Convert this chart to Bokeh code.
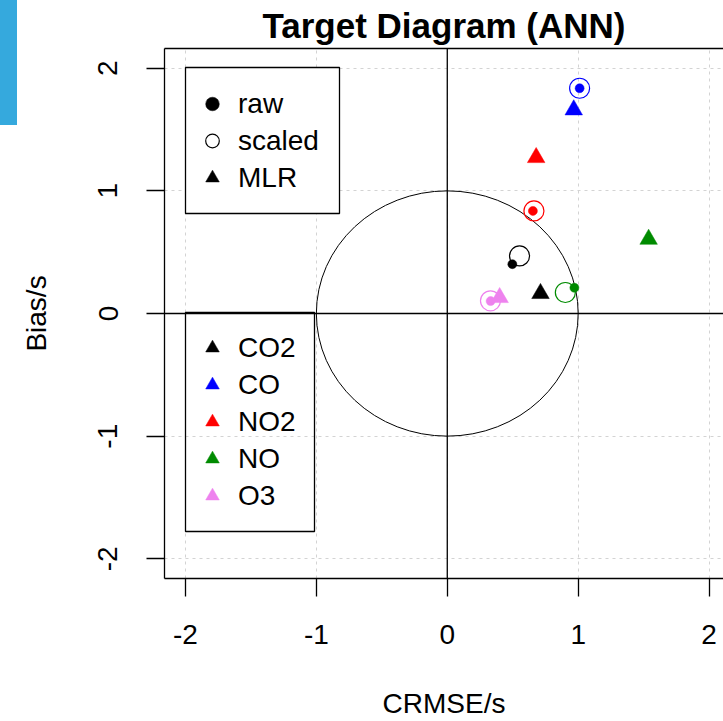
from bokeh.plotting import figure
from bokeh.models import (FixedTicker, LinearAxis, Span, Legend, LegendItem,
                          Div, ColumnDataSource, BoxAnnotation)
from bokeh.layouts import row
from bokeh.embed import file_html
from bokeh.resources import INLINE

# Pollutants and their colours
pollutants = ["CO2", "CO", "NO2", "NO", "O3"]
colors = ["black", "blue", "red", "#008B00", "violet"]

# ANN with raw inputs: normalised CRMSE and bias
raw_crmse = [0.497, 1.011, 0.654, 0.971, 0.331]
raw_bias = [0.402, 1.836, 0.836, 0.210, 0.101]

# ANN with scaled inputs
scaled_crmse = [0.552, 1.011, 0.662, 0.902, 0.330]
scaled_bias = [0.469, 1.836, 0.836, 0.171, 0.103]

# MLR reference model
mlr_crmse = [0.712, 0.966, 0.679, 1.538, 0.400]
mlr_bias = [0.163, 1.660, 1.271, 0.605, 0.130]

ticks = [-2, -1, 0, 1, 2]
tick_labels = {t: str(t) for t in ticks}   # plain hyphen-minus
unit_radius = 1.0

FONT = "Liberation Sans"

p = figure(width=706, height=721,
           x_range=(-2.16, 2.11), y_range=(-2.16, 2.16),
           output_backend="svg", toolbar_location=None,
           min_border_left=146, min_border_right=0,
           min_border_top=47, min_border_bottom=143,
           x_axis_label="CRMSE/s", y_axis_label="Bias/s",
           title="Target Diagram (ANN)")
p.outline_line_color = None
p.background_fill_color = "white"
p.border_fill_color = "white"

p.title.align = "center"
p.title.text_font = FONT
p.title.text_font_size = "35px"
p.title.text_font_style = "bold"
p.title.text_color = "black"
p.title.standoff = 7

for ax in (p.xaxis[0], p.yaxis[0]):
    ax.ticker = FixedTicker(ticks=ticks)
    ax.major_label_overrides = tick_labels
    ax.major_tick_out = 18
    ax.major_tick_in = 0
    ax.minor_tick_out = 0
    ax.minor_tick_in = 0
    ax.major_tick_line_color = "black"
    ax.major_tick_line_width = 1.3
    ax.axis_line_color = "black"
    ax.axis_line_width = 1.3
    ax.major_label_text_font = FONT
    ax.major_label_text_font_size = "28px"
    ax.major_label_text_color = "black"
    ax.axis_label_text_font = FONT
    ax.axis_label_text_font_size = "28px"
    ax.axis_label_text_font_style = "normal"
    ax.axis_label_text_color = "black"
    ax.axis_label_text_line_height = 1.0

p.xaxis[0].major_label_standoff = 28
p.xaxis[0].axis_label_standoff = 41
p.yaxis[0].major_label_orientation = "vertical"
p.yaxis[0].major_label_standoff = 29
p.yaxis[0].axis_label_standoff = 44

# top edge of the plot box
top = LinearAxis(ticker=FixedTicker(ticks=[]), major_tick_out=0, major_tick_in=0,
                 minor_tick_out=0, minor_tick_in=0,
                 major_label_text_font_size="0px", major_label_standoff=0,
                 axis_line_color="black", axis_line_width=1.3)
p.add_layout(top, "above")

p.grid.ticker = FixedTicker(ticks=ticks)
p.grid.grid_line_color = "#D3D3D3"
p.grid.grid_line_dash = "3 4"
p.grid.grid_line_width = 1

# zero lines and the unit circle
p.add_layout(Span(location=0, dimension="height", line_color="black", line_width=1.3))
p.add_layout(Span(location=0, dimension="width", line_color="black", line_width=1.3))
p.ellipse(x=[0], y=[0], width=[2 * unit_radius], height=[2 * unit_radius],
          fill_color=None, line_color="black", line_width=1)

src_raw = ColumnDataSource(dict(x=raw_crmse, y=raw_bias, c=colors, name=pollutants))
src_scaled = ColumnDataSource(dict(x=scaled_crmse, y=scaled_bias, c=colors, name=pollutants))
src_mlr = ColumnDataSource(dict(x=mlr_crmse, y=mlr_bias, c=colors, name=pollutants))

r_raw = p.scatter("x", "y", source=src_raw, marker="circle", size=9,
                  fill_color="c", line_color="c", line_width=0.5)
r_scaled = p.scatter("x", "y", source=src_scaled, marker="circle", size=20,
                     fill_color=None, line_color="c", line_width=1.2)
r_mlr = p.scatter("x", "y", source=src_mlr, marker="triangle", size=17.5,
                  fill_color="c", line_color="c", line_width=0.5)

# legend frames (screen pixels from the frame's bottom-left corner)
frame_style = dict(left_units="screen", right_units="screen",
                   bottom_units="screen", top_units="screen",
                   line_color="black", line_alpha=1.0, line_width=1.3,
                   editable=False)
frame_models = BoxAnnotation(left=21, right=175, bottom=365, top=511,
                             fill_color="white", fill_alpha=1.0, **frame_style)
frame_gases = BoxAnnotation(left=21, right=150, bottom=47, top=266,
                            fill_alpha=0.0, **frame_style)
p.add_layout(frame_models)
p.add_layout(frame_gases)

legend_style = dict(orientation="vertical", spacing=0, margin=0, padding=0,
                    glyph_width=34, glyph_height=37, label_standoff=9,
                    label_text_font=FONT, label_text_font_size="28px",
                    label_text_color="black", border_line_color=None,
                    background_fill_alpha=0.0)

leg_models = Legend(items=[LegendItem(label="raw", renderers=[r_raw], index=0),
                           LegendItem(label="scaled", renderers=[r_scaled], index=0),
                           LegendItem(label="MLR", renderers=[r_mlr], index=0)],
                    location=(31, 382), **legend_style)

leg_gases = Legend(items=[LegendItem(label=name, renderers=[r_mlr], index=i)
                          for i, name in enumerate(pollutants)],
                   location=(31, 64), **legend_style)

p.add_layout(leg_models)
p.add_layout(leg_gases)

tab = Div(width=17, height=125, margin=0,
          styles={"background-color": "#35A9DD"})

page = row(tab, p, spacing=0)

with open("out.html", "w") as f:
    f.write(file_html(page, INLINE))
